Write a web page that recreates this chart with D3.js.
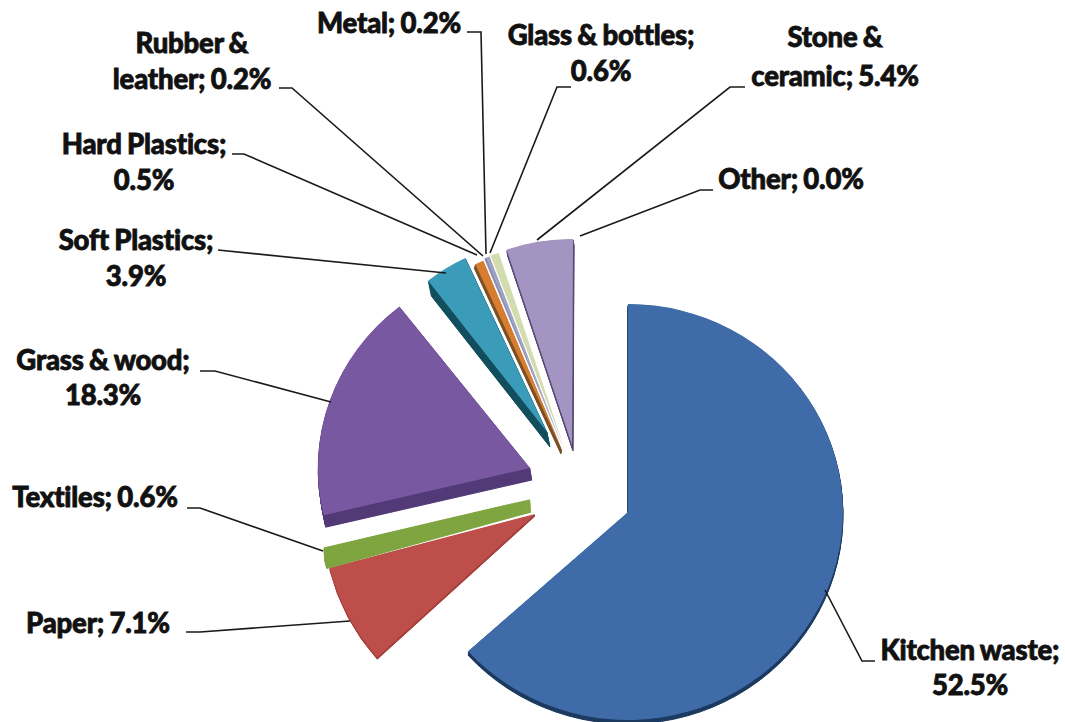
<!DOCTYPE html>
<html><head><meta charset="utf-8">
<style>html,body{margin:0;padding:0;background:#fff}svg{display:block}
text{font-family:Lato,"Open Sans",sans-serif;font-weight:900;font-size:27.5px;fill:#111;stroke:#111;stroke-width:.8px;letter-spacing:-.2px;word-spacing:-1px;text-anchor:middle}</style>
<script src="https://cdn.jsdelivr.net/npm/d3@7"></script></head><body>
<svg id="c" width="1065" height="722" viewBox="0 0 1065 722"></svg>
<script>
// --- data ---
const categories = ["Kitchen waste","Paper","Textiles","Grass & wood","Soft Plastics","Hard Plastics","Rubber & leather","Metal","Glass & bottles","Stone & ceramic","Other"];
const percents   = [52.5,7.1,0.6,18.3,3.9,0.5,0.2,0.2,0.6,5.4,0.0];
const labelLines = [["Kitchen waste;","52.5%"],["Paper; 7.1%"],["Textiles; 0.6%"],["Grass & wood;","18.3%"],["Soft Plastics;","3.9%"],["Hard Plastics;","0.5%"],["Rubber &","leather; 0.2%"],["Metal; 0.2%"],["Glass & bottles;","0.6%"],["Stone &","ceramic; 5.4%"],["Other; 0.0%"]];

// --- look and layout (3-D perspective of the original) ---
const faceColors = ["#3f6ca8","#bd4e49","#7fa540","#7858a0","#3a9cb9","#d97c30","#8b8fb2","#9aa0bd","#d2dcae","#a394c1","#b9b9b9"];
const wallColors = ["#1d3a60","#a33f3b","#7fa540","#533b78","#14505f","#7a5326","#6a6e90","#7a7e9a","#b9c795","#574a75","#b9b9b9"];
// perspective: pie angle (deg) -> drawn angle (deg)
const pieDeg  = [0,211.6,240.3,242.7,316.5,332.2,334.2,335.0,335.8,338.2,360];
const drawDeg = [0,228,254.5,256.7,322,335,337.4,338.2,339,341.4,360.3];
const endExtra = [0,1.0,0,0,0,0,0,0,0,0,0];
const apexX = [628,535,530,530,547,562,563,563,564,572,573];
const apexY = [512,514,499,468,432,450,448,448,447,445,445];
const radX  = [215,212,212,212,193,205,205,205,205,205,205];
const radY  = [208,214,211,205,192,205,205,205,205,206,206];
const wallX = [0,0,1,2,3,-1,0,0,0,1,0];
const wallY = [4,2,13,12,15,4,0,0,0,6,0];
const textX = [970,98,95,103,136,144,192,389,601,835,791];
const textY = [660,633,507,370,250,154,53,33,45,47,189];
const lineGap = [35,0,0,35,36,36,36,0,36,39,0];
const leaders = [
 [[875,661],[862,661],[825,590]],
 [[186,632],[200,632],[350,621]],
 [[187,508],[200,508],[323,551]],
 [[200,371],[215,371],[331,402]],
 [[218,250],[446,273]],
 [[232,154],[244,154],[477,255]],
 [[279,88],[292,88],[483,256]],
 [[467,32],[481,32],[486,254]],
 [[571,87],[557,87],[490,253]],
 [[745,87],[730,87],[537,240]],
 [[713,190],[700,190],[580,236]]
];

const svg = d3.select("#c");
const rad = Math.PI/180;
const warp = d3.scaleLinear().domain(pieDeg).range(drawDeg);
const pie = d3.pie().value(d=>d).sort(null).startAngle(0).endAngle(2*Math.PI);
const arcs = pie(percents);
const arc = d3.arc().innerRadius(0).outerRadius(1);

const draw = arcs.map((a,i)=>({i,
  startAngle: warp(a.startAngle/rad)*rad,
  endAngle: (warp(a.endAngle/rad)+endExtra[i])*rad}));

// painter's order: small back slices first
const order = [9,8,7,6,5,4,3,1,2,0,10];
const slice = svg.append("g").selectAll("g").data(order.map(i=>draw[i])).join("g");
// extruded side wall, one pixel layer at a time, then the top face
slice.selectAll("path.wall")
  .data(d=>d3.range(wallY[d.i],0,-1).map(k=>({...d,k})))
  .join("path").attr("class","wall")
  .attr("d",d=>arc(d))
  .attr("transform",d=>`translate(${apexX[d.i]+wallX[d.i]*d.k/wallY[d.i]},${apexY[d.i]+d.k}) scale(${radX[d.i]},${radY[d.i]})`)
  .attr("fill",d=>wallColors[d.i])
  .attr("stroke",d=>wallColors[d.i]).attr("stroke-width",1).attr("vector-effect","non-scaling-stroke");
slice.append("path").attr("class","face")
  .attr("d",d=>arc(d))
  .attr("transform",d=>`translate(${apexX[d.i]},${apexY[d.i]}) scale(${radX[d.i]},${radY[d.i]})`)
  .attr("fill",d=>faceColors[d.i]);

const line = d3.line();
svg.append("g").selectAll("path").data(leaders).join("path")
  .attr("d",line).attr("fill","none").attr("stroke","#1a1a1a").attr("stroke-width",1.6);

const lab = svg.append("g").selectAll("text").data(categories).join("text")
  .attr("transform",(d,i)=>`translate(${textX[i]},${textY[i]})`);
lab.selectAll("tspan").data((d,i)=>labelLines[i].map((t,k)=>({t,k,i}))).join("tspan")
  .attr("x",0).attr("y",d=>d.k*lineGap[d.i]).text(d=>d.t);
</script></body></html>
